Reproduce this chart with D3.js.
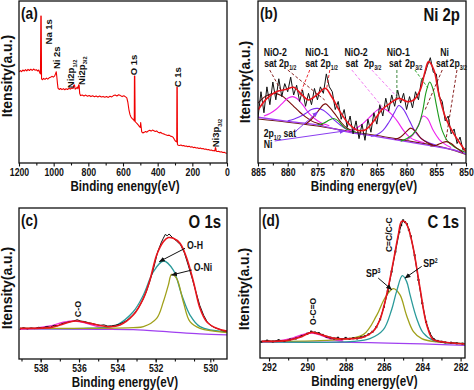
<!DOCTYPE html>
<html>
<head>
<meta charset="utf-8">
<script src="https://cdn.jsdelivr.net/npm/d3@7"></script>
<style>
  body { margin: 0; background: #fff; }
  text { font-family: "Liberation Sans", Arial, sans-serif; font-weight: bold; }
</style>
</head>
<body>
<svg id="fig" width="474" height="390"></svg>
<script>
// ---- (a) survey spectrum, [binding energy eV, intensity a.u.]
const survey = [[1200,56.2],[1192,57.0],[1185,56.4],[1178,57.4],[1170,56.8],[1162,57.6],[1155,56.9],[1148,57.8],[1140,57.1],[1132,57.9],[1124,57.2],[1116,58.0],[1108,57.3],[1100,57.6],[1092,56.8],[1086,57.4],[1080,55.6],[1076,55.0],[1074,90.7],[1072,90.7],[1070,52.0],[1064,51.4],[1058,52.2],[1050,51.6],[1042,52.4],[1034,51.8],[1026,52.6],[1018,52.9],[1010,53.5],[1002,53.0],[994,53.8],[988,55.5],[985,56.3],[982,53.4],[978,49.0],[975,46.2],[968,45.4],[960,46.0],[952,45.3],[944,45.9],[936,45.2],[928,45.8],[920,45.4],[912,46.1],[904,45.6],[896,46.3],[888,46.0],[884,48.0],[880,48.2],[876,45.6],[870,46.0],[864,46.8],[860,45.8],[856,48.2],[853,48.0],[850,43.0],[845,41.6],[835,42.0],[825,41.4],[815,41.9],[805,41.2],[795,41.7],[785,41.0],[775,41.5],[765,40.9],[755,41.4],[745,40.8],[735,41.3],[725,40.7],[715,41.1],[705,40.6],[695,41.0],[685,40.5],[675,41.2],[665,40.8],[655,41.6],[645,42.0],[635,41.4],[625,42.1],[615,41.6],[605,41.0],[595,41.5],[585,40.8],[578,40.2],[572,37.5],[566,33.0],[560,30.0],[554,28.4],[548,27.6],[542,27.0],[537,26.4],[535,26.0],[534,53.7],[532,53.7],[530,25.6],[525,25.0],[520,24.4],[515,23.8],[510,23.2],[505,22.4],[500,22.0],[498,25.0],[496,23.0],[492,19.2],[486,18.6],[478,18.9],[470,19.4],[462,19.0],[454,19.8],[446,20.2],[438,19.7],[430,20.3],[422,19.9],[414,19.5],[406,19.8],[398,19.0],[390,18.6],[382,18.9],[374,18.2],[366,18.0],[358,17.6],[350,17.3],[342,17.0],[334,17.2],[326,16.6],[318,16.4],[310,15.8],[304,14.6],[298,13.6],[293,13.2],[290,13.0],[289,46.7],[287,46.7],[286,11.6],[282,11.0],[274,10.8],[266,11.1],[258,10.6],[250,10.8],[242,10.3],[234,10.5],[226,10.1],[218,10.3],[210,9.8],[202,10.0],[194,9.5],[186,9.7],[178,9.3],[170,9.4],[162,9.0],[154,9.2],[146,8.8],[138,8.9],[130,8.5],[122,8.6],[114,8.2],[106,8.3],[98,7.9],[90,8.0],[82,7.6],[74,7.7],[70,7.4],[67,9.5],[65,9.2],[62,7.3],[56,7.1],[48,7.2],[40,6.8],[32,6.9],[24,6.5],[16,6.6],[8,6.2],[0,6.0]];
const surveyTicks = [1200, 1000, 800, 600, 400, 200, 0];

// ---- (b) Ni 2p
const niData = [[885,28],[884.5,44],[884,31],[883.5,47],[883,36],[882.5,50],[882,39],[881.5,52],[881,41],[880.5,49],[880,44],[879.5,53],[879,42],[878.5,48],[878,38],[877.5,45],[877,35],[876.5,43],[876,36],[875.5,46],[875,39],[874.5,47],[874,43],[873.5,55],[873,47],[872.5,44],[872,33],[871.5,38],[871,27],[870.5,33],[870,22],[869.5,29],[869,18],[868.5,26],[868,15],[867.5,24],[867,14],[866.5,27],[866,19],[865.5,31],[865,24],[864.5,36],[864,29],[863.5,40],[863,32],[862.5,42],[862,35],[861.5,45],[861,37],[860.5,43],[860,33],[859.5,41],[859,34],[858.5,44],[858,39],[857.5,51],[857,54],[856.5,60],[856,65],[855.5,56],[855,55],[854.5,41],[854,38],[853.5,26],[853,29],[852.5,18],[852,21],[851.5,12],[851,16],[850.5,8],[850,9]];
const niFit = [[885,32.7],[883.5,39.9],[881.9,44.0],[880.2,45.5],[879.0,46.7],[877.6,42.0],[876.5,38.9],[875.1,42.0],[873.7,46.1],[872.6,40.9],[871.2,31.7],[869.8,24.5],[868.4,20.4],[867.0,20.4],[865.6,25.5],[864.2,32.7],[862.8,36.8],[861.3,39.9],[859.9,37.9],[858.8,38.9],[857.7,45.1],[856.9,56.4],[856.3,62.6],[855.4,57.4],[854.6,43.0],[853.5,28.6],[852.1,18.3],[850,7.0]];
const niBgPurple = [[885,28.2],[880,25.7],[875,23.5],[870,19.3],[865,16.3],[860,13.2],[855,10.1],[852,8.0],[850,5.6]];
const niBgBrown = [[885,27.2],[880,25.2],[875,22.8],[870,19.8],[865,17.0],[860,13.8],[855,10.6],[852,7.8],[850,5.2]];
const nio2Sat12 = [[885,37],[884,40.5],[883,42.5],[882.2,43],[881,41.5],[880,38.5],[879,35],[878,31.5],[877,28.5],[876,26],[875,24.5],[874,23.5]];
const nio2P12 = [[884,29],[883,30.5],[882,33],[881,36.5],[880,40],[879.2,41],[878.5,40],[877.5,36],[876.5,31],[875.5,27.5],[874.5,25],[873,23]];
const nio1P12 = [[880,26],[879,27],[878,28.5],[877,30.5],[876,33],[875,33.7],[874,32.5],[873,29.5],[872,26],[871,23],[870,20.5],[869,19.5]];
const nio1Sat12 = [[877,24],[876,27],[875,31.5],[874,36],[873.6,36.5],[873,34.5],[872,30],[871,25],[870,21.5],[869,20]];
const niSmall12 = [[875,23.5],[874,24.5],[873,26.5],[872.3,27.5],[871.5,26],[870.5,22],[869.5,20],[868.5,19]];
const nio2P32 = [[870,19.5],[869,20.5],[868,22.5],[867,25.5],[866,29],[865,32.5],[864.3,33.7],[863.5,33],[862.5,30],[861.5,25.5],[860.5,20],[859.5,16],[858.5,14],[857,12.5]];
const nio1P32 = [[866,16.5],[865,17.5],[864,20],[863,25],[862,31.5],[861.3,35.5],[860.5,33],[859.5,26],[858.5,19],[857.5,15],[856.5,13],[855,11]];
const nio1Sat32 = [[862,14.5],[861,16],[860,19.5],[859.3,21.5],[858.5,19.5],[857.5,15],[856.5,12.5],[855.5,11]];
const niSat32 = [[860,14],[859,17],[858,23.5],[857.2,29],[856.5,27.5],[855.5,20],[854.5,14.5],[853.5,11.5],[852.5,9.5]];
const niMain32 = [[861,13.5],[860,15],[859,17.5],[858,23],[857.3,32],[856.7,44],[856.1,50],[855.5,45],[855,36],[854.5,27],[854,20],[853,13],[852,10],[851,8],[850,6.5]];
const niMetal32 = [[856,10.5],[855,11],[854,12.5],[853.3,13.2],[852.5,12],[851.5,9],[850.5,6.5]];
const niTicks = [885, 880, 875, 870, 865, 860, 855, 850];

// ---- (c) O 1s
const oData = [[539.1,19.6],[538.9,20.8],[538.7,19.9],[538.5,20.6],[538.3,20.1],[538.1,21.0],[537.9,20.4],[537.7,21.5],[537.5,21.0],[537.3,22.3],[537.1,22.0],[536.9,23.4],[536.7,24.0],[536.5,24.6],[536.3,25.0],[536.1,26.0],[535.9,25.1],[535.7,24.8],[535.5,24.0],[535.3,23.5],[535.1,22.8],[534.9,22.3],[534.7,22.6],[534.5,21.8],[534.3,22.0],[534.1,22.4],[533.9,23.0],[533.7,24.2],[533.5,25.6],[533.3,27.8],[533.1,30.4],[532.9,33.8],[532.7,38.6],[532.5,44.2],[532.3,51.8],[532.1,60.5],[531.9,70.8],[531.7,77.4],[531.6,80.0],[531.5,82.5],[531.4,81.6],[531.3,82.8],[531.2,81.4],[531.1,80.2],[530.9,78.0],[530.7,75.6],[530.5,70.2],[530.3,62.0],[530.1,53.5],[529.9,44.4],[529.7,35.5],[529.5,29.0],[529.3,24.3],[529.1,22.0],[528.9,20.6],[528.7,19.8],[528.5,18.7],[528.3,18.4]];
const oFit = [[539.08,20.3],[537.51,20.8],[536.99,22.5],[536.21,25.2],[535.43,23.6],[534.38,21.4],[533.86,22.5],[533.17,29.1],[532.64,40.2],[532.30,52.3],[531.95,68.9],[531.60,77.7],[531.34,80.4],[531.08,79.9],[530.73,76.6],[530.38,66.7],[530.03,51.2],[529.69,33.6],[529.34,24.7],[528.82,20.3],[528.12,18.1]];
const oOH = [[539.08,20.3],[535.77,20.3],[534.56,21.0],[534.03,22.5],[533.17,31.3],[532.64,42.4],[532.12,57.8],[531.60,64.9],[531.08,58.9],[530.64,42.4],[530.21,29.1],[529.69,21.4],[528.12,17.7]];
const oONi = [[539.08,20.3],[533.17,20.8],[532.64,21.4],[531.95,26.9],[531.60,37.9],[531.34,48.9],[531.17,56.0],[530.91,53.4],[530.56,37.9],[530.21,24.7],[529.69,20.3],[528.12,17.4]];
const oCO = [[539.08,19.9],[538.38,20.3],[537.51,21.9],[536.82,24.3],[536.21,25.2],[535.60,23.6],[534.90,21.0],[534.21,19.9]];
const oBg = [[539.08,19.9],[534.90,19.6],[533.17,19.4],[531.43,18.1],[529.69,16.6],[528.12,15.9]];
// tick positions and the labels printed at them (last label sits near the 529 eV tick in the figure)
const oTicks = [538, 536, 534, 532, 529.15];
const oTickLabels = ["538", "536", "534", "532", "530"];

// ---- (d) C 1s
const cData = [[292.4,10.8],[292.1,11.6],[291.8,11.0],[291.5,11.9],[291.2,11.3],[290.9,12.3],[290.6,13.0],[290.3,14.6],[290.0,16.2],[289.8,17.6],[289.6,17.0],[289.4,16.6],[289.2,15.4],[289.0,14.2],[288.8,13.6],[288.6,13.0],[288.4,13.5],[288.2,12.6],[288.0,13.4],[287.8,12.8],[287.6,13.2],[287.4,13.0],[287.2,13.8],[287.0,14.5],[286.8,15.8],[286.6,17.5],[286.4,20.6],[286.2,25.8],[286.0,34.2],[285.8,44.5],[285.6,57.6],[285.4,71.0],[285.2,84.0],[285.1,88.6],[285.0,91.8],[284.9,90.6],[284.8,89.2],[284.7,85.5],[284.6,81.2],[284.4,68.5],[284.2,52.0],[284.0,36.5],[283.8,24.0],[283.6,16.4],[283.4,12.6],[283.2,11.4],[283.0,10.9],[282.8,10.4],[282.5,10.2],[282.2,9.8],[281.9,9.6]];
const cFit = [[292.38,11.1],[291.08,11.6],[290.38,13.8],[289.77,17.1],[289.17,15.1],[288.47,12.9],[287.6,12.9],[287.08,13.8],[286.56,17.8],[286.21,25.6],[285.86,42.2],[285.51,64.4],[285.25,82.2],[285.08,91.1],[284.90,90.7],[284.73,86.7],[284.47,73.3],[284.12,46.7],[283.77,22.2],[283.43,12.2],[282.90,10.7],[281.77,9.3]];
const cSP2 = [[292.38,10.7],[287.6,11.1],[286.73,12.9],[286.03,18.9],[285.6,32.2],[285.34,44.4],[285.04,54.9],[284.82,51.1],[284.64,42.2],[284.30,26.7],[283.95,16.7],[283.43,11.8],[281.77,9.6]];
const cSP3 = [[292.38,11.1],[288.47,12.2],[287.08,15.6],[286.38,28.4],[285.95,40.0],[285.51,46.2],[285.17,42.2],[284.82,28.4],[284.47,17.8],[284.03,12.9],[283.25,10.7],[281.77,9.6]];
const cOCO = [[292.38,11.0],[291.6,11.1],[290.73,13.3],[290.21,15.6],[289.77,16.7],[289.34,15.6],[288.82,12.9],[288.12,11.1]];
const cBg = [[292.38,10.7],[286.73,10.2],[281.77,8.4]];
const cTicks = [292, 290, 288, 286, 284, 282];

const svg = d3.select("#fig");
const defs = svg.append("defs");
const SQ = 0.83; // horizontal text squeeze seen in the figure

function arrowMarker(id, color) {
  defs.append("marker").attr("id", id)
    .attr("viewBox", "0 0 10 10").attr("refX", 9).attr("refY", 5)
    .attr("markerWidth", 6).attr("markerHeight", 6).attr("orient", "auto")
    .append("path").attr("d", "M0,1 L10,5 L0,9 z").attr("fill", color);
}
arrowMarker("arrBlack", "#111");
arrowMarker("arrPurple", "#8a3cf0");

function squeeze(t, x) {
  t.attr("transform", `translate(${x},0) scale(${SQ},1) translate(${-x},0)`);
  return t;
}

// text with sub/superscript pieces
function richText(g, x, y, parts, size, opt) {
  opt = opt || {};
  const t = g.append("text").attr("x", x).attr("y", y)
    .attr("font-size", size)
    .attr("text-anchor", opt.anchor || "start")
    .attr("fill", opt.color || "#111");
  if (opt.rotate) t.attr("transform", `rotate(-90,${x},${y})`);
  else squeeze(t, x);
  let shift = 0;
  parts.forEach(p => {
    const s = t.append("tspan").text(p[0]);
    if (p[1] === "sub") { s.attr("font-size", size * 0.6).attr("dy", size * 0.3 - shift); shift = size * 0.3; }
    else if (p[1] === "sup") { s.attr("font-size", size * 0.6).attr("dy", -size * 0.4 - shift); shift = -size * 0.4; }
    else { if (shift) s.attr("dy", -shift); shift = 0; }
  });
  return t;
}

function panel(o) {
  const x = d3.scaleLinear().domain(o.xd).range([o.x0, o.x1]);
  const y = d3.scaleLinear().domain([0, 100]).range([o.y1, o.y0]);
  const g = svg.append("g");
  defs.append("clipPath").attr("id", "clip" + o.id)
    .append("rect").attr("x", o.x0).attr("y", o.y0)
    .attr("width", o.x1 - o.x0).attr("height", o.y1 - o.y0);
  const plot = g.append("g").attr("clip-path", `url(#clip${o.id})`);

  const fmt = o.labels ? (d, i) => o.labels[i] : d3.format("d");
  const minor = g.append("g").attr("transform", `translate(0,${o.y1})`)
    .call(d3.axisBottom(x).tickValues(o.minor).tickSize(2.5).tickFormat(""));
  const major = g.append("g").attr("transform", `translate(0,${o.y1})`)
    .call(d3.axisBottom(x).tickValues(o.major).tickSize(3.5).tickPadding(2).tickFormat(fmt));
  [minor, major].forEach(a => {
    a.select(".domain").remove();
    a.selectAll("line").attr("stroke", "#111").attr("stroke-width", 1.1);
  });
  major.selectAll("text").attr("font-size", 10.5).attr("font-family", null)
    .attr("fill", "#111").attr("transform", `scale(${SQ},1)`);

  g.append("rect").attr("x", o.x0).attr("y", o.y0)
    .attr("width", o.x1 - o.x0).attr("height", o.y1 - o.y0)
    .attr("fill", "none").attr("stroke", "#111").attr("stroke-width", 1.3);

  const tx = (o.x0 + o.x1) / 2 + 2;
  squeeze(g.append("text").attr("x", tx).attr("y", o.y1 + 28)
    .attr("text-anchor", "middle").attr("font-size", 14).attr("fill", "#111").text(o.title), tx);
  g.append("text").attr("transform", `translate(${o.ylx},${o.yly}) rotate(-90)`)
    .attr("text-anchor", "middle").attr("dy", "0.35em")
    .attr("font-size", 14).attr("fill", "#111").text("Itensity(a.u.)");
  squeeze(g.append("text").attr("x", o.x0 + 2).attr("y", o.y0 + 18)
    .attr("font-size", 16.5).attr("fill", "#111").text(o.tag), o.x0 + 2);
  if (o.name) squeeze(g.append("text").attr("x", o.x1 - 6).attr("y", o.y0 + 20)
    .attr("text-anchor", "end").attr("font-size", 18).attr("fill", "#111").text(o.name), o.x1 - 6);
  return { x, y, plot, g };
}

function curve(p, data, color, width, kind) {
  const line = d3.line().x(d => p.x(d[0])).y(d => p.y(d[1]))
    .curve(kind === "lin" ? d3.curveLinear : d3.curveCatmullRom.alpha(0.5));
  return p.plot.append("path").datum(data).attr("d", line)
    .attr("fill", "none").attr("stroke", color).attr("stroke-width", width)
    .attr("stroke-linejoin", "round");
}

// ---------------- (a)
const pa = panel({ id: "a", x0: 19, x1: 227, y0: 1, y1: 163, xd: [1200, 0],
  major: surveyTicks, minor: d3.range(1100, 0, -200),
  title: "Binding enengy(eV)", tag: "(a)", ylx: 7, yly: 76 });
curve(pa, survey, "#f00000", 1.1, "lin");
const aLabels = [
  { e: 1032, v: 81, parts: [["Na 1s"]] },
  { e: 981, v: 65, parts: [["Ni 2s"]] },
  { e: 900, v: 55, parts: [["Ni2p"], ["1/2", "sub"]] },
  { e: 842, v: 57, parts: [["Ni2p"], ["3/2", "sub"]] },
  { e: 542, v: 60.5, parts: [["O 1s"]] },
  { e: 288, v: 53, parts: [["C 1s"]] },
  { e: 68, v: 18.5, parts: [["Ni3p"], ["3/2", "sub"]] }
];
aLabels.forEach(l => {
  richText(pa.g, pa.x(l.e) + 3.5, pa.y(l.v), l.parts, 9.5, { anchor: "middle", rotate: true });
});

// ---------------- (b)
const pb = panel({ id: "b", x0: 258, x1: 466, y0: 1, y1: 163, xd: [885, 850],
  major: niTicks, minor: d3.range(882.5, 850, -5),
  title: "Binding energy(eV)", tag: "(b)", name: "Ni 2p", ylx: 245, yly: 82 });
curve(pb, niBgBrown, "#6e1d10", 1.1);
curve(pb, niBgPurple, "#a040f0", 1.4);
curve(pb, nio2Sat12, "#7a0a0a", 1.1);
curve(pb, nio2P12, "#ee22ee", 1.1);
curve(pb, nio1P12, "#7a2cf0", 1.1);
curve(pb, nio1Sat12, "#7a0a0a", 1.1);
curve(pb, niSmall12, "#1a9a1a", 1.1);
curve(pb, nio2P32, "#ee22ee", 1.1);
curve(pb, nio1P32, "#7a2cf0", 1.1);
curve(pb, nio1Sat32, "#7a0a0a", 1.1);
curve(pb, niSat32, "#ee22ee", 1.1);
curve(pb, niMain32, "#1a9a1a", 1.1);
curve(pb, niMetal32, "#7a0a0a", 1.1);
curve(pb, niData, "#111", 1, "lin");
curve(pb, niFit, "#e8141c", 1.6);

// label rows and dashed leaders
const bRow1 = [["NiO-2", 882.1], ["NiO-1", 875.1], ["NiO-2", 868.5], ["NiO-1", 861.4], ["Ni", 853.6]];
bRow1.forEach(r => richText(pb.g, pb.x(r[1]), 56, [[r[0]]], 10.5, { anchor: "middle" }));
const bRow2 = [
  [[["sat"]], 882.9], [[["2p"], ["1/2", "sub"]], 880.0],
  [[["sat"]], 876.0], [[["2p"], ["1/2", "sub"]], 873.0],
  [[["sat"]], 869.2], [[["2p"], ["3/2", "sub"]], 865.7],
  [[["sat"]], 861.9], [[["2p"], ["3/2", "sub"]], 858.8],
  [[["sat"]], 854.0], [[["2p"], ["3/2", "sub"]], 851.3]
];
bRow2.forEach(r => richText(pb.g, pb.x(r[1]), 67, r[0], 10.5, { anchor: "middle" }));
const bLeaders = [
  [883.03, 57.4, 881.17, 45.1, "#7a0a0a"], [879.99, 57.4, 873.78, 38.9, "#7a0a0a"],
  [876.29, 57.4, 877.97, 42.0, "#e8141c"], [872.92, 57.4, 873.43, 46.3, "#e8141c"],
  [869.21, 57.4, 863.65, 32.7, "#f070f0"], [865.84, 57.4, 861.12, 38.9, "#f070f0"],
  [861.63, 57.4, 861.63, 38.9, "#2a7a2a"], [858.6, 57.4, 856.4, 46.3, "#1a9a1a"],
  [854.0, 57.4, 856.9, 32.7, "#7a0a0a"], [851.52, 57.4, 853.38, 14.2, "#7a0a0a"]
];
bLeaders.forEach(l => pb.g.append("line")
  .attr("x1", pb.x(l[0])).attr("y1", pb.y(l[1])).attr("x2", pb.x(l[2])).attr("y2", pb.y(l[3]))
  .attr("stroke", l[4]).attr("stroke-width", 0.9).attr("stroke-dasharray", "3,2"));
richText(pb.g, pb.x(884.04), pb.y(16.0), [["2p"], ["1/2", "sub"], [" sat"]], 10.5);
richText(pb.g, pb.x(884.04), pb.y(9.4), [["Ni"]], 10.5);
const bArrows = [[878.82, 19.1, 874.94, 31.5], [882.19, 13.6, 870.39, 19.8]];
bArrows.forEach(a => pb.g.append("line")
  .attr("x1", pb.x(a[0])).attr("y1", pb.y(a[1])).attr("x2", pb.x(a[2])).attr("y2", pb.y(a[3]))
  .attr("stroke", "#8a3cf0").attr("stroke-width", 1).attr("marker-end", "url(#arrPurple)"));

// ---------------- (c)
const pc = panel({ id: "c", x0: 19, x1: 227, y0: 208, y1: 359, xd: [539.13, 528.28],
  major: oTicks, labels: oTickLabels, minor: d3.range(539, 528, -1),
  title: "Binding energy(eV)", tag: "(c)", name: "O 1s", ylx: 7, yly: 288 });
curve(pc, oBg, "#a040f0", 1.3);
curve(pc, oCO, "#f030d0", 1.4);
curve(pc, oOH, "#2a9a9a", 1.3);
curve(pc, oONi, "#a0a01a", 1.3);
curve(pc, oData, "#111", 1, "lin");
curve(pc, oFit, "#e8141c", 1.6);
richText(pc.g, pc.x(530.47) + 2, pc.y(75.5) + 4, [["O-H"]], 10.5);
richText(pc.g, pc.x(530.12) + 2, pc.y(61.1) + 4, [["O-Ni"]], 10.5);
[[530.47, 73.3, 531.81, 64.5], [530.12, 58.9, 531.17, 55.6]].forEach(a => pc.g.append("line")
  .attr("x1", pc.x(a[0])).attr("y1", pc.y(a[1])).attr("x2", pc.x(a[2])).attr("y2", pc.y(a[3]))
  .attr("stroke", "#111").attr("stroke-width", 1).attr("marker-end", "url(#arrBlack)"));
richText(pc.g, pc.x(536.09) + 3.5, pc.y(33.1), [["C-O"]], 9, { anchor: "middle", rotate: true });

// ---------------- (d)
const pd = panel({ id: "d", x0: 260, x1: 465, y0: 208, y1: 358, xd: [292.47, 281.77],
  major: cTicks, minor: d3.range(291, 281, -2),
  title: "Binding energy(eV)", tag: "(d)", name: "C 1s", ylx: 244, yly: 289 });
curve(pd, cBg, "#a040f0", 1.3);
curve(pd, cOCO, "#f030d0", 1.8);
curve(pd, cSP3, "#a0a01a", 1.3);
curve(pd, cSP2, "#2a9a9a", 1.3);
curve(pd, cData, "#111", 1, "lin");
pd.plot.selectAll("rect.pt").data(cData).join("rect").attr("class", "pt")
  .attr("x", d => pd.x(d[0]) - 1).attr("y", d => pd.y(d[1]) - 1)
  .attr("width", 2).attr("height", 2).attr("fill", "#111");
curve(pd, cFit, "#e8141c", 1.6);
richText(pd.g, pd.x(285.77) + 3.5, pd.y(82.2), [["C=C/C-C"]], 8.5, { anchor: "middle", rotate: true });
richText(pd.g, pd.x(289.72) + 3.5, pd.y(31.1), [["O-C=O"]], 8.5, { anchor: "middle", rotate: true });
richText(pd.g, pd.x(286.56), pd.y(56.7) + 4, [["SP"], ["3", "sup"]], 10.5, { anchor: "middle" });
richText(pd.g, pd.x(283.57), pd.y(63.3) + 4, [["SP"], ["2", "sup"]], 10.5, { anchor: "middle" });
[[286.3, 53.3, 285.6, 45.6], [284.03, 61.1, 284.9, 53.3]].forEach(a => pd.g.append("line")
  .attr("x1", pd.x(a[0])).attr("y1", pd.y(a[1])).attr("x2", pd.x(a[2])).attr("y2", pd.y(a[3]))
  .attr("stroke", "#111").attr("stroke-width", 1).attr("marker-end", "url(#arrBlack)"));
</script>
</body>
</html>
